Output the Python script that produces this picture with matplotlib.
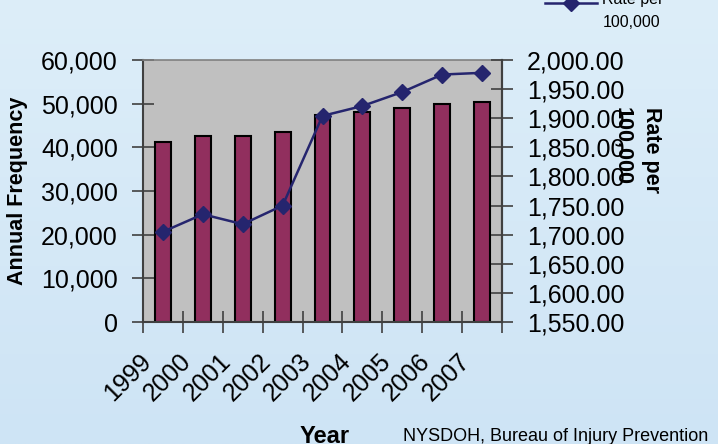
import numpy as np
import matplotlib
matplotlib.use("Agg")
import matplotlib.pyplot as plt
from matplotlib.ticker import FuncFormatter, FixedLocator
from matplotlib.lines import Line2D
import matplotlib.transforms as mtrans

plt.rcParams['font.family'] = ['Liberation Sans', 'DejaVu Sans']

years = ['1999', '2000', '2001', '2002', '2003', '2004', '2005', '2006', '2007']
frequency = [41300, 42600, 42600, 43600, 47300, 48200, 49100, 50000, 50400]
rate = [1705, 1735, 1718, 1750, 1904, 1921, 1945, 1975, 1978]

W, H = 718, 444
fig = plt.figure(figsize=(W / 100, H / 100), dpi=100)

# background gradient
bg = fig.add_axes([0, 0, 1, 1], zorder=-10)
top_c = np.array([0xDD, 0xEE, 0xF9]) / 255
bot_c = np.array([0xCE, 0xE4, 0xF5]) / 255
t = np.linspace(0, 1, 256)[:, None]
grad = top_c[None, :] * (1 - t) + bot_c[None, :] * t
bg.imshow(grad[:, None, :].repeat(2, axis=1), aspect='auto', extent=[0, 1, 0, 1])
bg.set_axis_off()

left, right, top, bottom = 143 / W, 502 / W, 1 - 60 / H, 1 - 322 / H
ax = fig.add_axes([left, bottom, right - left, top - bottom])
ax.set_facecolor('#C0C0C0')

x = np.arange(len(years))
ax.bar(x, frequency, width=0.4, color='#912F5E', edgecolor='black', linewidth=1.5, zorder=2)
ax.set_xlim(-0.5, len(years) - 0.5)
ax.set_ylim(0, 60000)
ax.yaxis.set_major_locator(FixedLocator(np.arange(0, 60001, 10000)))
ax.yaxis.set_major_formatter(FuncFormatter(lambda v, p: f'{v:,.0f}'))

ax.set_xticks(x)
ax.set_xticklabels(years, rotation=45, ha='right', va='top', rotation_mode='anchor')
ax.set_xticks(np.arange(-0.5, len(years)), minor=True)
ax.tick_params(axis='x', which='major', length=0, labelsize=18, pad=19.5)
ax.tick_params(axis='x', which='minor', length=16, direction='inout', color='#404040', width=1.2)
ax.tick_params(axis='y', length=16, direction='inout', color='#404040', width=1.2, labelsize=18, pad=10)
off = mtrans.ScaledTranslation(-24 / 100, 0, fig.dpi_scale_trans)
for lab in ax.get_xticklabels():
    lab.set_transform(lab.get_transform() + off)

for s in ['left', 'bottom', 'right']:
    ax.spines[s].set_color('#404040')
    ax.spines[s].set_linewidth(1.5)
ax.spines['top'].set_color('#808080')
ax.spines['top'].set_linewidth(1.2)

ax2 = ax.twinx()
ax2.plot(x, rate, color='#25256E', linewidth=1.8, marker='D', markersize=8, zorder=3)
ax2.set_ylim(1550, 2000)
ax2.yaxis.set_major_locator(FixedLocator(np.arange(1550, 2001, 50)))
ax2.yaxis.set_major_formatter(FuncFormatter(lambda v, p: f'{v:,.2f}'))
ax2.tick_params(axis='y', length=16, direction='inout', color='#404040', width=1.2, labelsize=18, pad=10)
for s in ax2.spines.values():
    s.set_visible(False)
ax2.spines['right'].set_visible(True)
ax2.spines['right'].set_color('#404040')
ax2.spines['right'].set_linewidth(1.5)

# axis titles
fig.text(18 / W, 1 - 191 / H, 'Annual Frequency', rotation=90, fontsize=15.5,
         fontweight='bold', ha='center', va='center')
fig.text(637 / W, 1 - 150 / H, 'Rate per\n100,000', rotation=270, fontsize=15.5,
         fontweight='bold', ha='center', va='center', multialignment='left', linespacing=1.45)
fig.text(325 / W, 1 - 443 / H, 'Year', fontsize=17, fontweight='bold', ha='center', va='baseline')
fig.text(403 / W, 1 - 441 / H, 'NYSDOH, Bureau of Injury Prevention', fontsize=13,
         ha='left', va='baseline')

# legend
ly = 1 - 3 / H
fig.add_artist(Line2D([545 / W, 597 / W], [ly, ly], color='#25256E', linewidth=1.8))
fig.add_artist(Line2D([571 / W], [ly], color='#25256E', marker='D', markersize=8))
fig.text(602 / W, 1 - 4 / H, 'Rate per', fontsize=11.5, ha='left', va='baseline')
fig.text(603 / W, 1 - 27 / H, '100,000', fontsize=11.5, ha='left', va='baseline')

fig.savefig('out.png', dpi=100)
